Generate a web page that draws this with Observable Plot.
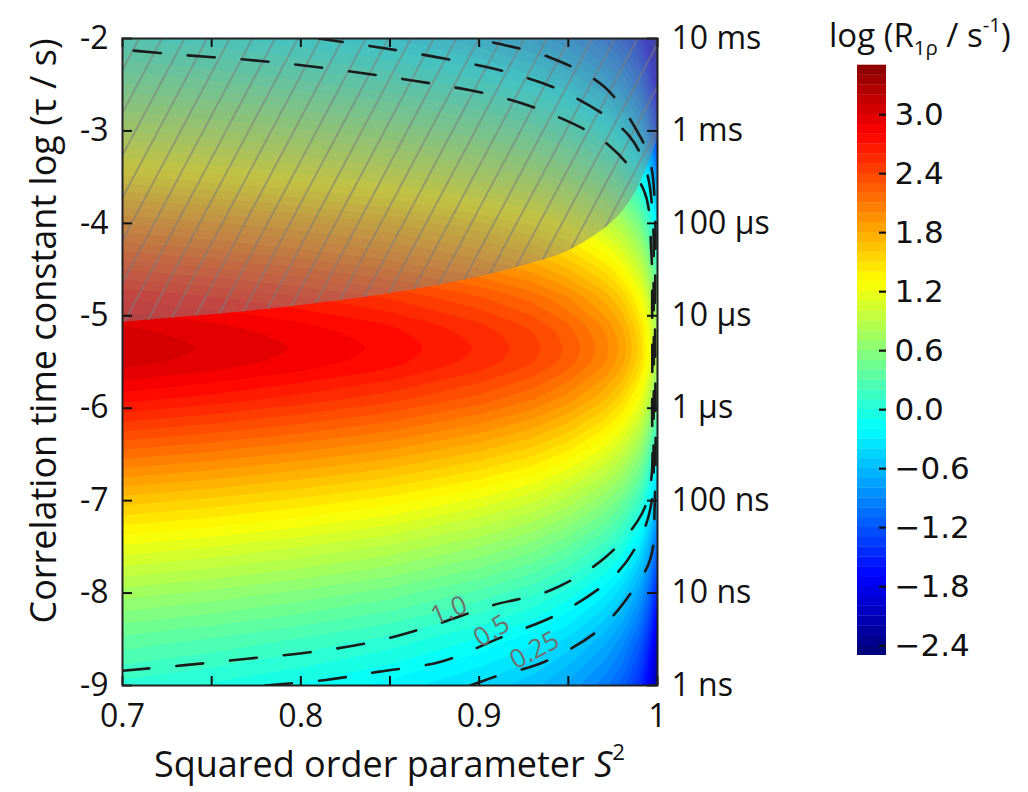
<!DOCTYPE html>
<html>
<head>
<meta charset="utf-8">
<script src="https://cdn.jsdelivr.net/npm/d3@7"></script>
<script src="https://cdn.jsdelivr.net/npm/@observablehq/plot@0.6"></script>
<style>
  body { margin: 0; background: #fff; }
  #wrap { position: relative; width: 1028px; height: 792px; font-family: "Open Sans", sans-serif; color: #111; overflow: hidden; }
  #main { position: absolute; left: 0; top: 0; }
  #bar { position: absolute; left: 828px; top: 0; }
  #xtitle { position: absolute; left: 122px; width: 535px; top: 736px; text-align: center; font-size: 36px; white-space: nowrap; }
  #ctitle { position: absolute; left: 829px; top: 10px; font-size: 33px; white-space: nowrap; }
  sub, sup { font-size: 0.62em; }
  sub { vertical-align: -0.35em; }
  sup { vertical-align: 0.75em; }
</style>
</head>
<body>
<div id="wrap">
  <div id="main"></div>
  <div id="bar"></div>
  <div id="xtitle">Squared order parameter <i>S</i><sup>2</sup></div>
  <div id="ctitle">log (R<sub>1ρ</sub> / s<sup>-1</sup>)</div>
</div>
<script>
// ---- axes / ticks ----
const s2Ticks = [0.7, 0.75, 0.8, 0.85, 0.9, 0.95, 1.0];
const s2LabelValues = [0.7, 0.8, 0.9, 1.0];
const s2Labels = ["0.7", "0.8", "0.9", "1"];
const logTauTicks = [-9, -8, -7, -6, -5, -4, -3, -2];
const tauLabels = ["1 ns", "10 ns", "100 ns", "1 µs", "10 µs", "100 µs", "1 ms", "10 ms"];
const colorbarTicks = [-2.4, -1.8, -1.2, -0.6, 0.0, 0.6, 1.2, 1.8, 2.4, 3.0];

// ---- log R1rho field ----
// profile along log(tau) at S^2 = 0.7
const logTau    = [-9, -8.5, -8, -7.5, -7, -6.5, -6.2, -5.9, -5.6, -5.5, -5.35, -5.2, -5.1, -4.8, -4.5, -4, -3.5, -3, -2.5, -2];
const rateAtS07 = [0.06, 0.37, 0.75, 1.18, 1.65, 2.15, 2.45, 2.74, 2.98, 3.04, 3.07, 3.04, 3.0, 2.79, 2.50, 2.00, 1.42, 0.90, 0.42, 0.0];
// change of log R1rho along S^2 (relative to S^2 = 0.7)
const s2        = [0.70, 0.75, 0.80, 0.85, 0.90, 0.93, 0.95, 0.97, 0.98, 0.99, 0.995, 0.998, 1.00];
const dropVsS2  = [0, -0.08, -0.18, -0.30, -0.48, -0.63, -0.79, -1.02, -1.20, -1.50, -1.80, -2.07, -2.40];

// ---- hatched region boundary ----
const hatchS2  = [0.70, 0.75, 0.80, 0.85, 0.90, 0.93, 0.95, 0.965, 0.98, 0.99, 0.995, 1.00];
const hatchTau = [-5.07, -4.99, -4.89, -4.76, -4.58, -4.43, -4.30, -4.13, -3.88, -3.58, -3.35, -3.10];

// ---- dashed contour lines ----
const c10S2  = [0.700, 0.735, 0.770, 0.805, 0.840, 0.874, 0.908, 0.940, 0.971, 0.991, 0.9963, 0.9970, 0.9970, 0.9965, 0.9925, 0.973, 0.942, 0.909, 0.874, 0.840, 0.805, 0.770, 0.735, 0.700];
const c10Tau = [-8.84, -8.78, -8.71, -8.64, -8.53, -8.35, -8.13, -7.97, -7.61, -7.15, -6.8, -6.0, -5.0, -4.3, -3.65, -3.16, -2.83, -2.62, -2.49, -2.39, -2.30, -2.23, -2.18, -2.12];
const c05S2  = [0.780, 0.814, 0.844, 0.879, 0.911, 0.947, 0.977, 0.991, 0.9968, 0.9978, 0.9978, 0.9975, 0.994, 0.984, 0.951, 0.917, 0.881, 0.845, 0.810];
const c05Tau = [-9.0, -8.94, -8.85, -8.74, -8.49, -8.2, -7.79, -7.38, -7.0, -6.2, -4.6, -4.0, -3.45, -3.05, -2.61, -2.37, -2.22, -2.10, -2.0];
const c025S2  = [0.895, 0.908, 0.937, 0.967, 0.985, 0.996, 0.9985, 0.9986, 0.9985, 0.996, 0.990, 0.970, 0.939, 0.907, 0.898];
const c025Tau = [-9.0, -8.91, -8.74, -8.40, -8.00, -7.63, -7.0, -5.0, -3.8, -3.34, -3.05, -2.52, -2.20, -2.04, -2.0];
const contourNames = ["1.0", "0.5", "0.25"];
const labelS2 = [0.883, 0.907, 0.931];
const labelTau = [-8.19, -8.41, -8.62];
const labelAngle = [-22, -32, -28];

// ---- colour map (jet) ----
const jetDomain = [-2.5, -1.75, -0.25, 1.25, 2.75, 3.5];
const jetRange = ["#00007f", "#0000ff", "#00ffff", "#ffff00", "#ff0000", "#7f0000"];
const levels = d3.range(-25, 35).map(i => i / 10);

// build tables
const alongTau = d3.scaleLinear().domain(logTau).range(rateAtS07).clamp(true);
const alongS2 = d3.scaleLinear().domain(s2).range(dropVsS2).clamp(true);
const hatch = hatchS2.map((x, i) => ({x, y: hatchTau[i]}));
const dashed = [
  ...c10S2.map((x, i) => ({x, y: c10Tau[i], k: contourNames[0]})),
  ...c05S2.map((x, i) => ({x, y: c05Tau[i], k: contourNames[1]})),
  ...c025S2.map((x, i) => ({x, y: c025Tau[i], k: contourNames[2]}))
];
const labels = contourNames.map((t, i) => ({t, x: labelS2[i], y: labelTau[i], a: labelAngle[i]}));

const colorSpec = {type: "linear", domain: jetDomain, range: jetRange, interpolate: "rgb"};

const main = Plot.plot({
  width: 800, height: 792,
  marginLeft: 122, marginRight: 143, marginTop: 38, marginBottom: 107,
  style: {fontFamily: "'Open Sans', sans-serif", fontSize: "32px", color: "#111", background: "transparent", overflow: "visible"},
  x: {domain: [0.7, 1.0]},
  y: {domain: [-9, -2]},
  color: colorSpec,
  marks: [
    Plot.contour({
      x1: 0.7, x2: 1.0, y1: -9, y2: -2,
      fill: (x, y) => alongTau(y) + alongS2(x),
      thresholds: levels, pixelSize: 1, blur: 2, stroke: "none"
    }),
    Plot.areaY(hatch, {x: "x", y1: "y", y2: -2, fill: "#858585", fillOpacity: 0.5, curve: "monotone-x"}),
    Plot.areaY(hatch, {x: "x", y1: "y", y2: -2, fill: "url(#hatch)", curve: "monotone-x"}),
    Plot.line(dashed, {x: "x", y: "y", z: "k", curve: "catmull-rom", stroke: "#1b1b1b", strokeWidth: 2.6, strokeDasharray: "27,27", clip: true}),
    Plot.text(labels, {x: "x", y: "y", text: "t", rotate: "a", fill: "#707070", fontSize: 26}),
    // inward ticks
    Plot.ruleY(logTauTicks, {y: d => d, x1: 0.7, x2: 0.7, insetRight: -10, stroke: "#111", strokeWidth: 2}),
    Plot.ruleY(logTauTicks, {y: d => d, x1: 1.0, x2: 1.0, insetLeft: -10, stroke: "#111", strokeWidth: 2}),
    Plot.ruleX(s2Ticks, {x: d => d, y1: -9, y2: -9, insetTop: -9, stroke: "#111", strokeWidth: 2}),
    Plot.ruleX(s2Ticks, {x: d => d, y1: -2, y2: -2, insetBottom: -9, stroke: "#111", strokeWidth: 2}),
    Plot.frame({stroke: "#222", strokeWidth: 2}),
    Plot.axisY({anchor: "left", ticks: logTauTicks, tickSize: 0, tickPadding: 14, tickFormat: d => `${d}`, label: null}),
    Plot.axisY({anchor: "right", ticks: logTauTicks, tickSize: 0, tickPadding: 14, tickFormat: (d, i) => tauLabels[i], label: null}),
    Plot.axisX({anchor: "bottom", ticks: s2LabelValues, tickSize: 0, tickPadding: 19, tickFormat: (d, i) => s2Labels[i], label: null}),
    Plot.text(["Correlation time constant log (τ / s)"], {frameAnchor: "left", textAnchor: "middle", rotate: -90, dx: -78, dy: -31, fontSize: 36})
  ]
});

// hatch pattern definition
const svgMain = main.tagName.toLowerCase() === "svg" ? main : main.querySelector("svg");
const defs = d3.select(svgMain).insert("defs", ":first-child");
const pat = defs.append("pattern").attr("id", "hatch").attr("patternUnits", "userSpaceOnUse")
  .attr("width", 20).attr("height", 20).attr("patternTransform", "rotate(28)");
pat.append("line").attr("x1", 1).attr("y1", -5).attr("x2", 1).attr("y2", 25)
  .attr("stroke", "#7a7a7a").attr("stroke-width", 1.1);
document.getElementById("main").appendChild(main);

// colour bar
const bar = Plot.plot({
  width: 200, height: 792,
  marginLeft: 29, marginRight: 142, marginTop: 65, marginBottom: 137,
  style: {fontFamily: "'DejaVu Sans', sans-serif", fontSize: "31px", color: "#111", background: "transparent", overflow: "visible"},
  x: {domain: [0, 1], axis: null},
  y: {domain: [-2.5, 3.5]},
  color: colorSpec,
  marks: [
    Plot.rect(levels, {x1: 0, x2: 1, y1: d => d, y2: d => d + 0.1, fill: d => d, insetTop: -0.3}),
    Plot.ruleY(colorbarTicks, {y: d => d, x1: 1, x2: 1, insetLeft: -7, stroke: "#111", strokeWidth: 2.2}),
    Plot.axisY({anchor: "right", ticks: colorbarTicks, tickSize: 0, tickPadding: 8, tickFormat: d3.format(".1f"), label: null})
  ]
});
document.getElementById("bar").appendChild(bar);
</script>
</body>
</html>
